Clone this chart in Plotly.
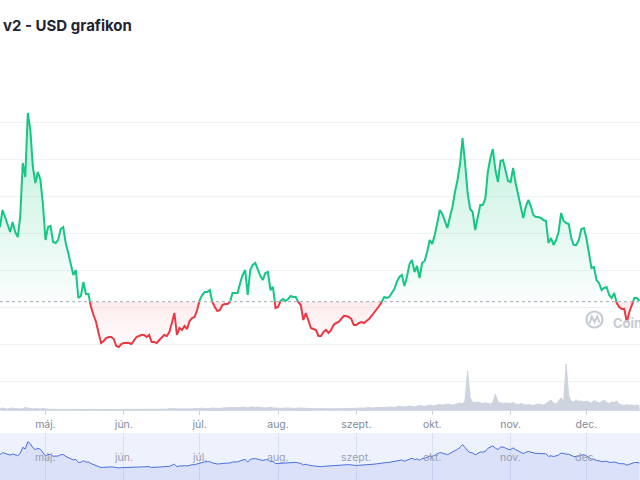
import numpy as np
import pandas as pd
import plotly.graph_objects as go

# daily closing price (USD), 13 Apr -> 22 Dec
price = [
    0.233, 0.250, 0.243, 0.235, 0.228, 0.238, 0.228, 0.223, 0.243, 0.297,
    0.283, 0.347, 0.330, 0.293, 0.277, 0.288, 0.280, 0.255, 0.220, 0.233,
    0.234, 0.218, 0.217, 0.220, 0.231, 0.233, 0.217, 0.207, 0.197, 0.185,
    0.190, 0.162, 0.164, 0.178, 0.166, 0.166, 0.153, 0.145, 0.138, 0.127,
    0.117, 0.119, 0.122, 0.123, 0.123, 0.121, 0.114, 0.113, 0.116, 0.117,
    0.117, 0.117, 0.116, 0.119, 0.123, 0.124, 0.125, 0.125, 0.123, 0.125,
    0.118, 0.118, 0.117, 0.120, 0.123, 0.125, 0.124, 0.128, 0.137, 0.147,
    0.125, 0.132, 0.130, 0.134, 0.131, 0.139, 0.142, 0.143, 0.150, 0.160,
    0.165, 0.168, 0.168, 0.170, 0.158, 0.153, 0.149, 0.150, 0.155, 0.156,
    0.156, 0.158, 0.167, 0.167, 0.167, 0.177, 0.185, 0.190, 0.165, 0.190,
    0.195, 0.197, 0.191, 0.184, 0.180, 0.187, 0.188, 0.170, 0.173, 0.152,
    0.153, 0.159, 0.161, 0.159, 0.161, 0.164, 0.163, 0.163, 0.158, 0.155,
    0.140, 0.147, 0.139, 0.132, 0.131, 0.130, 0.124, 0.124, 0.128, 0.130,
    0.127, 0.130, 0.135, 0.137, 0.138, 0.141, 0.144, 0.144, 0.143, 0.141,
    0.135, 0.135, 0.137, 0.138, 0.137, 0.139, 0.141, 0.144, 0.147, 0.150,
    0.154, 0.158, 0.163, 0.162, 0.163, 0.167, 0.171, 0.178, 0.183, 0.185,
    0.174, 0.183, 0.196, 0.200, 0.188, 0.194, 0.182, 0.197, 0.199, 0.208,
    0.220, 0.216, 0.225, 0.237, 0.250, 0.246, 0.239, 0.232, 0.243, 0.253,
    0.268, 0.280, 0.296, 0.322, 0.297, 0.267, 0.251, 0.248, 0.230, 0.243,
    0.255, 0.255, 0.261, 0.288, 0.302, 0.311, 0.290, 0.278, 0.299, 0.300,
    0.290, 0.279, 0.278, 0.292, 0.277, 0.265, 0.255, 0.242, 0.253, 0.260,
    0.254, 0.245, 0.243, 0.243, 0.242, 0.240, 0.239, 0.217, 0.222, 0.215,
    0.220, 0.228, 0.247, 0.239, 0.237, 0.236, 0.222, 0.215, 0.215, 0.220,
    0.231, 0.232, 0.222, 0.205, 0.192, 0.193, 0.180, 0.177, 0.170, 0.172,
    0.173, 0.165, 0.162, 0.167, 0.157, 0.153, 0.151, 0.151, 0.138, 0.148,
    0.155, 0.162, 0.162, 0.159,
]

# daily volume (M USD)
volume = [
    1.5, 2, 1.5, 1, 1.5, 2, 1.5, 1, 1, 1.5, 2.5, 2, 1.5, 1, 1.5, 1, 1, 1.5,
    1, 0.8, 0.8, 1, 0.7, 0.6, 0.8, 0.7, 0.6, 0.6, 0.8, 0.7, 0.6, 0.5, 0.6, 0.7,
    0.6, 0.5, 0.6, 0.5, 0.5, 0.6, 0.5, 0.5, 0.6, 0.5, 0.5, 0.6, 0.7, 0.6, 0.5,
    0.6, 0.5, 0.6, 0.7, 0.6, 0.6, 0.5, 0.6, 0.7, 0.8, 0.7, 0.6, 0.6, 0.7, 0.8,
    1, 0.9, 0.8, 1.5, 1.2, 1, 0.8, 1, 1.2, 1, 0.9, 1, 1.2, 1.5, 1.2,
    1.5, 1.8, 1.4, 1.2, 1.5, 2, 1.6, 1.4, 1.5, 2, 2.2, 1.8, 2, 2.5, 2.2, 2,
    2.5, 3, 2.5, 2.2, 2.8, 3.2, 2.5, 3, 2.6, 2.2, 2, 2.4, 2.8, 2, 1.8,
    1.8, 1.5, 1.6, 2, 1.8, 1.5, 1.4, 1.6, 2, 1.8, 1.5, 1.4, 1.2, 1.5, 1.3, 1.2,
    1.4, 1.6, 1.3, 1.2, 1.1, 1.3, 1.5, 1.4, 1.2, 1.3, 1.5, 1.8, 1.6, 1.5, 1.8,
    1.6, 1.8, 2, 1.8, 2.2, 2.5, 2, 2.2, 2.6, 3, 2.6, 2.4, 2.8, 3.2, 3,
    2.6, 3.4, 3.8, 3.2, 3, 3.6, 4, 3.5, 3.2, 3.8, 4.5, 4, 3.6, 4.2, 5,
    4.5, 4, 5, 5.5, 4.8, 5.2, 6, 5.5, 4.8, 5.4, 6.5, 7, 6, 9.5, 39, 12,
    8, 7.5, 8, 7, 6.5, 7.2, 6.8, 6, 7.5, 16, 8, 7, 6.5, 7, 6.8,
    6.5, 7.5, 6, 5.5, 6.2, 5.8, 5, 5.5, 4.8, 4.5, 5.2, 6, 5.5, 4.8, 6.5,
    8, 10, 7, 6, 9, 12, 8, 46, 14, 9, 8, 10, 8.5, 9, 8,
    9, 8, 7, 9.5, 8, 7, 8.5, 10, 7.5, 6.5, 8, 7.5, 9, 6, 5, 4.5, 5.5,
    4.8, 5, 4.2, 5, 4.5,
]

month_ticks = ["2021-05-01", "2021-06-01", "2021-07-01", "2021-08-01",
               "2021-09-01", "2021-10-01", "2021-11-01", "2021-12-01"]
month_labels = ["máj.", "jún.", "júl.", "aug.", "szept.", "okt.", "nov.", "dec."]

base = 0.1583  # reference price (dotted line)
x_range = ["2021-04-13 00:00", "2021-12-22 05:00"]

GREEN = "#16c784"
RED = "#ea3943"
GREY_TXT = "#808a9d"

dates = pd.date_range("2021-04-13", periods=len(price), freq="D")

# insert crossing points so the line switches colour exactly at the base price
xs, ys = [], []
for i in range(len(price)):
    xs.append(dates[i])
    ys.append(price[i])
    if i + 1 < len(price):
        a = price[i] - base
        b = price[i + 1] - base
        if a * b < 0:
            f = a / (a - b)
            xs.append(dates[i] + pd.Timedelta(days=f))
            ys.append(base)
ys = np.array(ys)
up_line = np.where(ys >= base, ys, np.nan)
dn_line = np.where(ys <= base, ys, np.nan)
up_fill = np.maximum(ys, base)
dn_fill = np.minimum(ys, base)
base_arr = np.full(len(ys), base)

fig = go.Figure()

# volume
fig.add_trace(go.Scatter(
    x=dates, y=volume, yaxis="y2", mode="lines", fill="tozeroy",
    line=dict(color="#cdd3df", width=1), fillcolor="#cdd3df",
    hoverinfo="skip"))

# gradient fills
fig.add_trace(go.Scatter(x=xs, y=base_arr, mode="lines", line=dict(width=0), hoverinfo="skip"))
fig.add_trace(go.Scatter(
    x=xs, y=up_fill, mode="lines", line=dict(width=0), fill="tonexty",
    fillgradient=dict(type="vertical", start=base, stop=max(price),
                      colorscale=[[0, "rgba(22,199,132,0.02)"], [1, "rgba(22,199,132,0.28)"]]),
    hoverinfo="skip"))
fig.add_trace(go.Scatter(x=xs, y=base_arr, mode="lines", line=dict(width=0), hoverinfo="skip"))
fig.add_trace(go.Scatter(
    x=xs, y=dn_fill, mode="lines", line=dict(width=0), fill="tonexty",
    fillgradient=dict(type="vertical", start=min(price), stop=base,
                      colorscale=[[0, "rgba(234,57,67,0.01)"], [1, "rgba(234,57,67,0.10)"]]),
    hoverinfo="skip"))

# price line
fig.add_trace(go.Scatter(x=xs, y=up_line, mode="lines", line=dict(color=GREEN, width=2)))
fig.add_trace(go.Scatter(x=xs, y=dn_line, mode="lines", line=dict(color=RED, width=2)))

# navigator
fig.add_trace(go.Scatter(
    x=dates, y=price, xaxis="x2", yaxis="y3", mode="lines", fill="tozeroy",
    line=dict(color="#4b6fe0", width=1), fillcolor="rgba(75,111,224,0.12)",
    hoverinfo="skip"))

nav_top = 47 / 480

fig.update_layout(
    width=640, height=480,
    margin=dict(l=0, r=0, t=0, b=0),
    paper_bgcolor="white", plot_bgcolor="white",
    showlegend=False,
    font=dict(family="Inter, sans-serif"),
    xaxis=dict(
        domain=[0, 1], anchor="y", range=x_range,
        tickvals=month_ticks, ticktext=month_labels,
        ticks="outside", ticklen=4, tickcolor="#ccd1da",
        showline=True, linecolor="#d6dae2", linewidth=1,
        showgrid=False, zeroline=False,
        tickfont=dict(family="Inter", size=10.5, color=GREY_TXT),
    ),
    yaxis=dict(
        domain=[70 / 480, 380 / 480], range=[0.05, 0.36],
        tick0=0.079, dtick=0.037,
        showgrid=True, gridcolor="#eff2f5", gridwidth=1,
        showticklabels=False, zeroline=False, ticks="",
    ),
    yaxis2=dict(overlaying="y", range=[0, 310], visible=False),
    xaxis2=dict(
        domain=[0, 1], anchor="y3", range=x_range,
        tickvals=month_ticks, showticklabels=False, ticks="",
        showgrid=True, gridcolor="#d9e0f3", zeroline=False, showline=False,
    ),
    yaxis3=dict(domain=[0, nav_top], range=[0.006, 0.425], visible=False),
)

# navigator background
fig.add_shape(type="rect", xref="paper", yref="paper", x0=0, x1=1, y0=0, y1=nav_top,
              fillcolor="#eef2fd", line=dict(width=0), layer="below")

# dotted base line
fig.add_shape(type="line", xref="paper", yref="y", x0=0, x1=1, y0=base, y1=base,
              line=dict(color="#a3a9b6", width=1, dash="dot"))

# navigator month labels
for t, lab in zip(month_ticks, month_labels):
    fig.add_annotation(x=t, xref="x2", y=(480 - 465.5) / 480, yref="paper",
                       text=lab, showarrow=False,
                       font=dict(family="Inter", size=10.5, color="#98a0b3"))

# title
fig.add_annotation(x=1 / 640, y=1 - 25.5 / 480, xref="paper", yref="paper",
                   xanchor="left", yanchor="middle", showarrow=False,
                   text="v2 - USD grafikon",
                   font=dict(family="Inter", size=15, color="#222531", weight=700))

# watermark
def px(x):
    return x / 640


def py(y):
    return 1 - y / 480


wm = "#c6cbd5"
fig.add_shape(type="circle", xref="paper", yref="paper",
              x0=px(586.5), x1=px(602.5), y0=py(327.5), y1=py(311.5),
              line=dict(color=wm, width=2.2))
fig.add_shape(type="path", xref="paper", yref="paper",
              path=(f"M {px(589.5)} {py(323.5)} L {px(591.8)} {py(316.5)} "
                    f"L {px(594.5)} {py(322)} L {px(597.2)} {py(316.5)} L {px(599.5)} {py(322.5)}"),
              line=dict(color=wm, width=2))
fig.add_annotation(x=px(611), y=py(322.5), xref="paper", yref="paper",
                   xanchor="left", yanchor="middle", showarrow=False,
                   text="CoinMarketCap",
                   font=dict(family="Inter", size=13, color=wm, weight=700))

fig.write_html("out.html", config={"displayModeBar": False},
               post_script="document.body.style.margin='0';")
